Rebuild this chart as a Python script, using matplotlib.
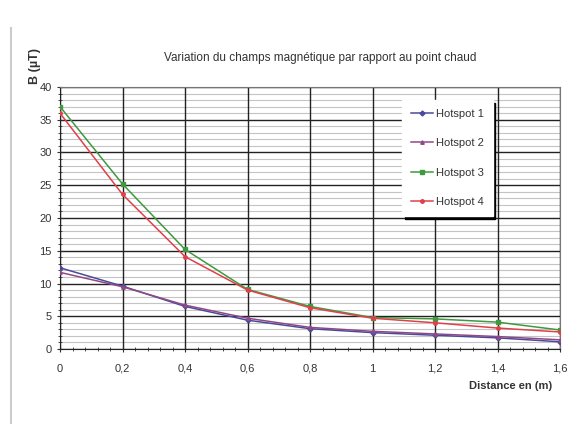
import matplotlib
matplotlib.use("Agg")
import matplotlib.pyplot as plt
from matplotlib.ticker import MultipleLocator, FuncFormatter
from matplotlib.lines import Line2D

plt.rcParams['font.family'] = ['Liberation Sans', 'DejaVu Sans']

# distances (m)
distance = [0, 0.2, 0.4, 0.6, 0.8, 1.0, 1.2, 1.4, 1.6]

# champ magnetique (uT) par hotspot
hotspot1 = [12.4, 9.6, 6.5, 4.4, 3.1, 2.5, 2.1, 1.7, 1.1]
hotspot2 = [11.7, 9.5, 6.7, 4.7, 3.3, 2.7, 2.3, 1.9, 1.4]
hotspot3 = [37.0, 25.2, 15.2, 9.1, 6.5, 4.8, 4.6, 4.1, 2.9]
hotspot4 = [36.0, 23.6, 14.1, 9.0, 6.3, 4.7, 4.0, 3.2, 2.6]

labels = ["Hotspot 1", "Hotspot 2", "Hotspot 3", "Hotspot 4"]
colors = ["#4a4a9c", "#8e4a86", "#3f9a3f", "#e0404a"]
markers = ["D", "^", "s", "o"]

fig = plt.figure(figsize=(5.85, 4.24), dpi=100)
ax = fig.add_axes([60/585, 1-349/424, 500/585, 262/424])

for ys, lab, c, m in zip([hotspot1, hotspot2, hotspot3, hotspot4], labels, colors, markers):
    ax.plot(distance, ys, color=c, lw=1.1, marker=m, ms=2.5, label=lab, zorder=3)

ax.set_xlim(0, 1.6)
ax.set_ylim(0, 40)
ax.xaxis.set_major_locator(MultipleLocator(0.2))
ax.xaxis.set_minor_locator(MultipleLocator(0.04))
ax.yaxis.set_major_locator(MultipleLocator(5))
ax.yaxis.set_minor_locator(MultipleLocator(1))
ax.xaxis.set_major_formatter(FuncFormatter(lambda v, p: ("%g" % round(v, 1)).replace(".", ",")))

ax.grid(which="major", color="#222222", lw=1.0)
ax.grid(which="minor", axis="y", color="#c4c4c4", lw=0.8)
ax.set_axisbelow(True)
# vertical grid on top of the thin horizontal lines
ax.yaxis.set_zorder(0.4)
ax.xaxis.set_zorder(0.6)
ax.tick_params(which="both", direction="inout", colors="#333333", labelsize=8)
ax.tick_params(which="major", length=5)
ax.tick_params(which="minor", length=3)
ax.tick_params(axis="x", pad=8)
for s in ax.spines.values():
    s.set_color("#777777")
ax.spines["left"].set_color("#222222")
ax.spines["bottom"].set_color("#222222")

leg = ax.legend(loc="upper left", bbox_to_anchor=(342/500, 1-13/262), fontsize=8,
                labelspacing=1.75, handlelength=2.0, handletextpad=0.25,
                borderpad=0.8, borderaxespad=0, fancybox=False, framealpha=1,
                shadow={'color': 'black', 'alpha': 1, 'ox': 2, 'oy': -2})
leg.get_frame().set_edgecolor("white")
for t in leg.get_texts():
    t.set_color("#333333")

fig.text(320/585, 1-58/424, "Variation du champs magnétique par rapport au point chaud",
         ha="center", va="center", fontsize=8.5, color="#333333")
fig.text(35/585, 1-84/424, "B (µT)", rotation=90, ha="center", va="bottom",
         fontsize=9, fontweight="bold", color="#333333")
fig.text(469/585, 1-386/424, "Distance en (m)", ha="left", va="center",
         fontsize=8, fontweight="bold", color="#333333")

# page border on the left
fig.add_artist(Line2D([11/585, 11/585], [0, 1-28/424], transform=fig.transFigure,
                      color="#cccccc", lw=1.5))

fig.savefig("out.png", dpi=100)
